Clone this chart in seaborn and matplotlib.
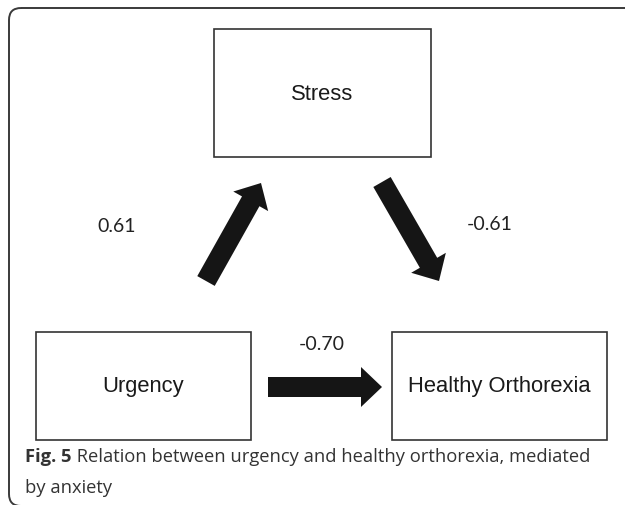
import matplotlib
matplotlib.use("Agg")
import matplotlib.pyplot as plt
import seaborn as sns
from matplotlib.patches import FancyBboxPatch, Rectangle, FancyArrow

# path model: nodes and coefficients
nodes = ["Stress", "Urgency", "Healthy Orthorexia"]
paths_from = ["Urgency", "Stress", "Urgency"]
paths_to = ["Stress", "Healthy Orthorexia", "Healthy Orthorexia"]
coefs = [0.61, -0.61, -0.70]
caption_bold = "Fig. 5"
caption_lines = [" Relation between urgency and healthy orthorexia, mediated",
                 "by anxiety"]

# layout in pixel units (y grows downward)
box_pos = {"Stress": (214, 30, 217, 128),
           "Urgency": (36, 333, 215, 108),
           "Healthy Orthorexia": (392, 333, 215, 108)}
arrow_pos = [((206, 282), (261, 184)),
             ((382, 183), (439, 282)),
             ((268, 388), (382, 388))]
label_pos = [(117, 227), (490, 224), (322, 345)]

sns.set_theme(style="white")
fig = plt.figure(figsize=(6.25, 5.06), dpi=100)
ax = fig.add_axes([0, 0, 1, 1])
ax.set_xlim(0, 625)
ax.set_ylim(506, 0)
ax.axis("off")

# outer frame (right and bottom edges run off the image)
frame = FancyBboxPatch((9, 9), 640, 498, boxstyle="round,pad=0,rounding_size=12",
                       fill=False, ec="#3a3a3a", lw=1.4)
ax.add_patch(frame)

for name in nodes:
    x, y, w, h = box_pos[name]
    ax.add_patch(Rectangle((x, y), w, h, fill=False, ec="#333333", lw=1.2))
    ax.text(x + w / 2, y + h / 2, name, ha="center", va="center",
            fontsize=15.8, family="Liberation Sans", color="#1a1a1a")

for (t, h), c, (lx, ly) in zip(arrow_pos, coefs, label_pos):
    dx, dy = h[0] - t[0], h[1] - t[1]
    ax.add_patch(FancyArrow(t[0], t[1], dx, dy, width=20, head_width=40,
                            head_length=21, length_includes_head=True,
                            color="#151515", lw=0))
    ax.text(lx, ly, f"{c:.2f}", ha="center", va="center", fontsize=14,
            family="Lato", color="#222222")

fb = ax.text(25, 462, caption_bold, ha="left", va="baseline", fontsize=13.2,
             family="Open Sans", fontweight="bold", color="#333333")
fig.canvas.draw()
bb = fb.get_window_extent()
x1 = ax.transData.inverted().transform((bb.x1, bb.y0))[0]
ax.text(x1, 462, caption_lines[0], ha="left", va="baseline", fontsize=13.2,
        family="Open Sans", color="#333333")
ax.text(25, 493, caption_lines[1], ha="left", va="baseline", fontsize=13.2,
        family="Open Sans", color="#333333")

fig.savefig("out.png", dpi=100)
